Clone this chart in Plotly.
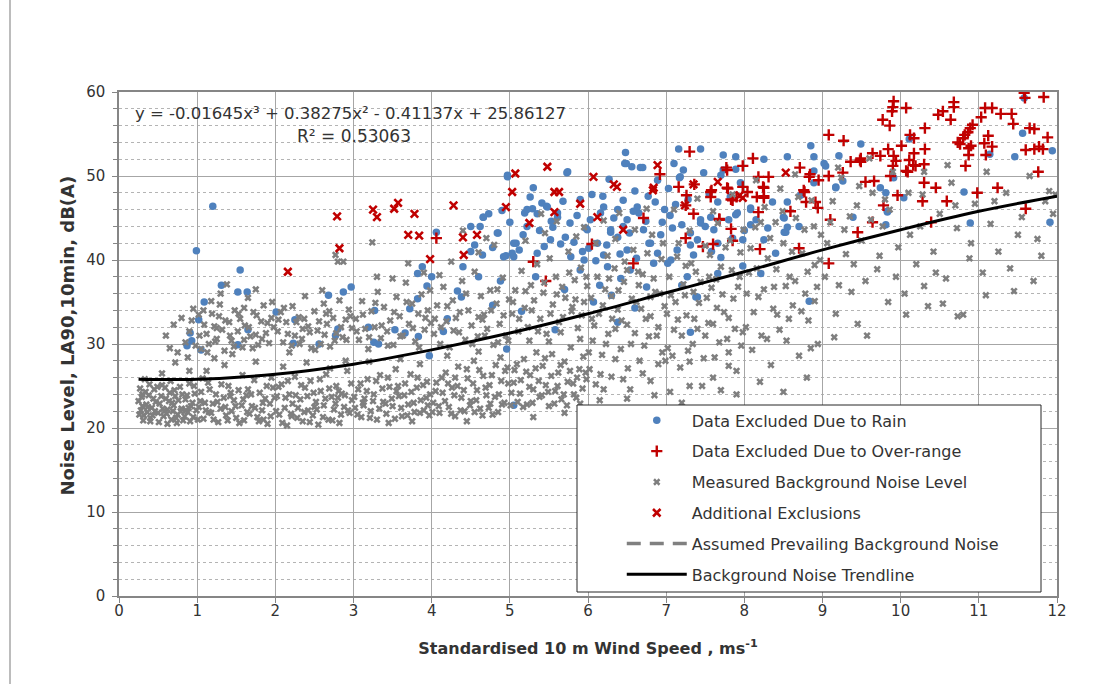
import plotly.graph_objects as go

# ---------------- data ----------------
rain_pts = [
    (1.2, 46.4), (0.99, 41.1), (1.55, 38.8), (1.31, 37.0), (1.52, 36.2), (1.64, 36.2), (1.09, 35.0),
    (1.02, 32.9), (0.91, 31.3), (0.93, 30.4), (0.87, 29.8), (1.05, 29.3), (1.52, 29.9), (1.65, 31.7),
    (2.01, 33.8), (2.25, 32.9), (2.23, 30.1), (2.56, 30.0), (2.68, 35.8), (2.87, 36.2), (2.97, 36.8),
    (2.77, 31.0), (2.8, 31.8), (3.19, 32.0), (3.27, 34.0), (3.26, 30.2), (3.32, 30.0), (3.53, 31.7),
    (3.66, 31.3), (3.72, 34.2), (3.83, 30.9), (3.97, 28.6), (3.82, 35.4), (3.82, 38.4), (3.88, 39.2),
    (3.94, 36.9), (4.0, 38.0), (4.06, 43.3), (4.15, 31.5), (4.33, 36.3), (4.38, 35.6), (4.5, 44.0),
    (4.5, 41.0), (4.65, 40.6), (4.66, 45.1), (4.73, 45.5), (4.85, 43.2), (4.88, 37.5), (4.95, 40.5),
    (4.97, 50.1), (5.05, 22.7), (4.96, 29.4), (5.03, 40.8), (5.08, 42.0), (5.19, 45.6), (5.22, 44.0),
    (5.3, 48.6), (5.29, 46.1), (5.35, 45.5), (5.33, 38.0), (5.41, 46.8), (5.47, 46.4), (5.61, 45.1),
    (5.73, 50.4), (5.71, 42.7), (5.58, 31.7), (5.82, 42.1), (5.97, 43.8), (6.01, 41.4), (6.07, 35.0),
    (6.16, 45.6), (6.2, 40.6), (6.27, 49.6), (6.29, 43.3), (6.38, 32.6), (6.42, 37.8), (6.47, 51.5),
    (6.56, 51.1), (6.65, 45.6), (6.67, 51.0), (6.78, 42.0), (7.02, 39.6), (7.1, 51.5), (7.17, 49.8),
    (7.31, 31.4), (7.4, 35.6), (7.27, 38.0), (4.97, 49.9), (5.74, 50.5), (6.48, 52.8), (6.49, 51.5),
    (6.7, 51.0), (7.16, 53.2), (7.44, 53.2), (7.73, 52.5), (7.89, 52.3), (7.22, 50.7), (7.18, 49.9),
    (7.48, 50.4), (7.7, 50.1), (8.25, 52.0), (6.86, 46.9), (6.89, 49.5), (7.66, 46.9), (7.44, 44.8),
    (7.31, 43.2), (7.82, 47.5), (8.08, 46.0), (6.2, 46.3), (6.38, 46.0), (6.29, 43.6), (6.5, 44.8),
    (6.63, 46.3), (6.38, 42.7), (6.12, 42.0), (5.99, 43.6), (6.71, 43.6), (6.8, 42.0), (6.89, 40.8),
    (7.06, 40.0), (7.14, 41.2), (7.4, 42.4), (7.61, 43.6), (6.5, 41.2), (6.54, 38.8), (6.84, 39.6),
    (5.78, 40.4), (5.9, 38.8), (6.25, 39.2), (5.52, 42.4), (5.35, 40.8), (5.22, 46.0), (5.48, 46.3),
    (5.61, 45.6), (5.05, 40.4), (4.66, 45.1), (4.84, 43.2), (5.05, 42.0), (4.92, 40.4), (8.85, 53.6),
    (8.55, 52.3), (9.49, 53.8), (9.21, 52.4), (9.04, 51.2), (8.89, 50.6), (8.89, 49.2), (9.17, 48.7),
    (9.26, 49.4), (8.72, 47.7), (9.74, 48.6), (9.81, 48.0), (10.04, 47.4), (9.83, 45.8), (9.81, 44.2),
    (9.39, 45.1), (10.81, 48.1), (10.89, 44.4), (11.14, 52.6), (11.46, 52.3), (11.56, 55.1), (11.94, 53.0),
    (11.91, 44.5), (10.11, 54.4), (9.91, 49.8), (11.58, 59.3), (8.51, 45.0), (8.51, 43.3), (8.55, 46.9),
    (8.83, 35.1), (7.38, 35.6), (7.66, 38.4), (8.21, 38.4), (7.98, 39.3), (7.44, 44.4), (7.57, 45.1),
    (7.89, 45.4), (8.08, 44.2), (8.5, 45.1), (8.7, 44.0), (7.85, 42.6), (7.98, 42.4), (7.31, 41.8),
    (7.66, 42.0), (8.25, 42.4), (8.36, 46.9), (8.08, 46.2), (7.91, 45.6), (8.55, 43.9), (8.53, 43.3),
    (9.17, 48.6), (9.83, 45.7), (8.89, 52.3), (9.02, 51.5), (7.73, 50.7), (7.89, 50.8),
    (5.9, 47.2), (6.05, 47.8), (6.6, 48.2), (5.55, 43.9), (4.4, 39.2), (4.6, 38.0), (6.95, 44.5),
    (7.05, 45.3), (6.15, 37.0), (5.7, 36.5), (6.3, 35.8), (6.75, 36.8), (4.78, 34.6), (5.15, 33.9),
    (4.2, 33.0), (6.6, 34.3), (7.2, 37.0), (5.95, 40.0), (6.45, 44.0), (7.55, 47.9), (7.95, 49.2),
    (4.55, 41.8), (4.62, 44.0), (4.78, 41.5), (4.9, 45.9), (5.0, 44.5), (5.12, 41.2), (5.17, 43.0),
    (5.26, 47.5), (5.38, 43.5), (5.44, 41.6), (5.53, 44.6), (5.65, 41.9), (5.68, 47.0), (5.77, 44.4),
    (5.86, 45.3), (5.93, 41.0), (6.03, 44.8), (6.1, 39.9), (6.19, 47.6), (6.24, 41.8), (6.33, 45.0),
    (6.41, 40.7), (6.45, 47.1), (6.53, 43.2), (6.58, 45.8), (6.62, 40.2), (6.74, 44.6), (6.77, 47.6),
    (6.93, 43.0), (6.98, 46.0), (7.03, 48.5), (7.08, 43.8), (7.12, 46.6), (7.2, 44.2), (7.28, 47.2),
    (7.35, 40.6), (7.5, 44.0), (7.58, 41.0), (7.7, 40.3), (7.8, 44.8), (8.0, 43.5), (8.15, 44.8),
    (8.3, 43.8), (8.4, 40.8),
]

overrange_pts = [
    (9.91, 58.9), (9.9, 58.2), (9.89, 57.7), (10.07, 58.1), (9.77, 56.7), (9.86, 56.0), (10.31, 55.7),
    (10.48, 57.3), (10.54, 57.7), (10.64, 56.7), (10.68, 58.8), (10.68, 58.2), (11.03, 57.0), (11.08, 58.1),
    (11.17, 58.1), (11.28, 57.4), (11.42, 57.4), (11.44, 56.2), (11.58, 59.9), (11.59, 59.3), (11.83, 59.4),
    (11.65, 55.7), (11.71, 55.6), (11.88, 54.6), (9.08, 54.9), (9.27, 54.2), (9.49, 52.1), (9.49, 51.7),
    (9.36, 51.7), (9.64, 52.7), (9.74, 52.4), (9.84, 53.2), (9.91, 52.4), (10.01, 53.6), (9.9, 51.2),
    (9.94, 51.8), (9.87, 50.0), (10.11, 51.9), (10.17, 52.7), (10.16, 51.3), (10.19, 51.2), (10.3, 51.4),
    (10.07, 50.6), (10.09, 50.5), (10.31, 53.2), (10.12, 54.9), (10.17, 54.5), (10.3, 49.2), (10.45, 48.6),
    (10.59, 47.0), (10.28, 47.0), (9.96, 47.7), (9.78, 46.5), (9.64, 44.5), (9.45, 43.3), (9.08, 39.6),
    (8.7, 41.4), (8.59, 45.8), (8.91, 46.9), (8.94, 46.2), (8.79, 46.9), (8.77, 48.1), (8.84, 50.2),
    (8.83, 49.9), (8.95, 49.5), (9.08, 50.0), (9.26, 50.4), (9.55, 49.3), (9.66, 49.4), (9.48, 51.9),
    (8.71, 51.0), (9.1, 44.8), (10.73, 54.0), (10.76, 53.8), (10.8, 54.5), (10.82, 54.9), (10.86, 55.2),
    (10.89, 55.7), (10.92, 56.1), (10.87, 53.3), (10.87, 52.5), (10.9, 53.6), (10.83, 51.2), (11.12, 54.8),
    (11.07, 53.9), (11.17, 53.5), (11.09, 52.5), (11.6, 53.1), (11.71, 53.2), (11.77, 53.5), (11.82, 53.2),
    (11.76, 50.5), (11.6, 46.1), (11.24, 48.6), (10.98, 48.0), (7.3, 52.9), (6.92, 50.2), (7.16, 48.7),
    (7.26, 47.7), (7.25, 46.5), (7.35, 45.5), (6.71, 45.0), (6.05, 41.9), (6.58, 39.6), (5.3, 39.8),
    (5.46, 37.5), (7.77, 51.0), (7.98, 51.2), (8.11, 52.1), (7.57, 48.1), (7.57, 47.5), (7.79, 48.5),
    (7.83, 47.2), (7.9, 47.5), (7.98, 48.7), (8.04, 48.1), (8.16, 47.5), (8.25, 47.4), (8.18, 49.9),
    (8.25, 48.6), (8.31, 49.9), (8.18, 45.7), (7.68, 44.8), (7.83, 43.7), (7.85, 42.3), (7.47, 41.6),
    (7.6, 41.9), (8.2, 41.3), (7.25, 42.6), (7.68, 44.9), (7.58, 48.3), (7.78, 48.6), (7.85, 47.1),
    (7.78, 50.7), (8.24, 48.7), (8.25, 47.6), (8.76, 48.3), (7.36, 49.0), (10.39, 44.5), (4.06, 42.6),
]

background_pts = [
    # 0 - 1 m/s
    (0.25, 23.2), (0.28, 22.1), (0.3, 24.0), (0.32, 21.5), (0.35, 22.8), (0.38, 23.9), (0.4, 21.2),
    (0.42, 22.4), (0.45, 24.6), (0.47, 23.1), (0.5, 21.8), (0.52, 22.9), (0.55, 25.1), (0.57, 21.4),
    (0.6, 23.5), (0.62, 22.2), (0.65, 24.2), (0.67, 21.0), (0.7, 22.7), (0.72, 23.8), (0.75, 21.6),
    (0.78, 24.9), (0.8, 22.3), (0.82, 20.9), (0.85, 23.4), (0.88, 21.9), (0.9, 25.3), (0.92, 22.6),
    (0.95, 21.3), (0.97, 24.1), (0.3, 22.6), (0.36, 21.9), (0.44, 23.5), (0.58, 22.0), (0.68, 23.0),
    (0.74, 20.6), (0.86, 22.1), (0.33, 25.8), (0.55, 26.5), (0.9, 26.8), (0.6, 31.0), (0.65, 29.5),
    (0.7, 32.3), (0.75, 29.0), (0.8, 33.1), (0.85, 30.2), (0.9, 31.5), (0.95, 34.2), (0.98, 29.8),
    (0.88, 28.4), (0.72, 27.8), (0.93, 32.8), (0.4, 20.8), (0.62, 20.5), (0.27, 24.7),
    (0.26, 21.6), (0.29, 23.7), (0.31, 20.9), (0.34, 24.3), (0.37, 22.5), (0.39, 25.2), (0.43, 21.5),
    (0.46, 22.0), (0.49, 24.9), (0.51, 20.7), (0.54, 23.8), (0.56, 22.3), (0.59, 24.8), (0.61, 21.7),
    (0.64, 23.2), (0.66, 25.6), (0.69, 22.0), (0.71, 24.5), (0.73, 21.2), (0.76, 23.3), (0.79, 22.0),
    (0.81, 24.0), (0.84, 21.4), (0.87, 23.9), (0.89, 22.4), (0.91, 20.8), (0.94, 23.0), (0.96, 25.0),
    (0.99, 22.1),
    # 1 - 2 m/s
    (1.02, 22.5), (1.05, 24.3), (1.08, 21.1), (1.1, 23.0), (1.14, 25.4), (1.18, 21.8), (1.2, 22.9),
    (1.24, 24.0), (1.27, 20.7), (1.3, 22.3), (1.34, 23.6), (1.37, 21.5), (1.4, 25.0), (1.44, 22.0),
    (1.47, 23.3), (1.5, 21.2), (1.53, 24.5), (1.57, 22.7), (1.6, 20.9), (1.63, 23.9), (1.67, 21.7),
    (1.7, 22.6), (1.73, 25.7), (1.77, 21.3), (1.8, 24.2), (1.83, 22.1), (1.87, 23.5), (1.9, 20.5),
    (1.93, 22.9), (1.97, 24.8), (1.12, 26.8), (1.35, 27.5), (1.58, 26.3), (1.75, 27.9), (1.95, 26.0),
    (1.22, 28.3), (1.45, 28.8), (1.02, 33.5), (1.05, 29.4), (1.08, 34.0), (1.12, 31.2), (1.15, 30.0),
    (1.18, 35.1), (1.22, 32.1), (1.25, 30.6), (1.28, 33.3), (1.32, 31.7), (1.35, 29.2), (1.38, 37.1),
    (1.41, 32.6), (1.44, 30.4), (1.48, 34.0), (1.52, 31.5), (1.55, 33.0), (1.58, 29.6), (1.61, 32.2),
    (1.65, 35.5), (1.68, 30.9), (1.72, 33.8), (1.75, 31.1), (1.78, 29.9), (1.82, 32.7), (1.85, 34.6),
    (1.88, 31.3), (1.92, 30.1), (1.95, 33.1), (1.98, 32.0), (1.3, 36.0), (1.75, 36.5), (1.15, 21.9),
    (1.42, 23.8), (1.65, 24.6), (1.85, 21.0), (1.25, 31.9), (1.6, 30.5),
    (1.01, 21.0), (1.04, 23.2), (1.07, 25.9), (1.11, 22.1), (1.16, 24.6), (1.21, 21.0), (1.26, 23.1),
    (1.31, 25.2), (1.36, 22.5), (1.39, 20.9), (1.43, 24.2), (1.49, 22.6), (1.54, 20.6), (1.59, 23.4),
    (1.64, 21.9), (1.69, 24.0), (1.74, 22.4), (1.79, 20.8), (1.84, 23.0), (1.89, 25.0), (1.94, 21.4),
    (1.99, 23.6), (1.03, 31.0), (1.09, 32.3), (1.13, 29.0), (1.19, 33.6), (1.23, 30.3), (1.29, 34.7),
    (1.36, 32.8), (1.42, 31.0), (1.47, 29.7), (1.53, 33.6), (1.6, 34.3), (1.66, 32.0), (1.71, 29.5),
    (1.76, 33.4), (1.83, 30.6), (1.9, 32.5), (1.96, 35.0),
    # 2 - 3 m/s
    (2.02, 23.8), (2.05, 21.6), (2.08, 25.2), (2.12, 22.4), (2.15, 20.3), (2.18, 24.0), (2.22, 22.9),
    (2.25, 26.1), (2.28, 21.2), (2.32, 23.4), (2.35, 20.8), (2.38, 24.8), (2.42, 22.1), (2.45, 25.6),
    (2.48, 21.5), (2.52, 23.1), (2.55, 20.4), (2.58, 24.4), (2.62, 22.7), (2.65, 26.4), (2.68, 21.0),
    (2.72, 23.7), (2.75, 22.2), (2.78, 25.0), (2.82, 20.6), (2.85, 24.1), (2.88, 22.5), (2.92, 26.8),
    (2.95, 21.8), (2.98, 23.3), (2.1, 27.3), (2.4, 27.8), (2.7, 27.1), (2.9, 28.0), (2.03, 31.5),
    (2.07, 33.8), (2.1, 30.2), (2.14, 32.6), (2.18, 29.0), (2.22, 34.5), (2.25, 31.0), (2.3, 33.2),
    (2.34, 30.6), (2.38, 35.7), (2.42, 32.1), (2.46, 29.5), (2.5, 33.9), (2.54, 31.6), (2.58, 30.0),
    (2.62, 34.8), (2.66, 32.4), (2.7, 29.7), (2.74, 33.1), (2.78, 31.3), (2.82, 35.2), (2.86, 30.8),
    (2.9, 32.9), (2.94, 34.1), (2.98, 31.9), (2.6, 36.4), (2.77, 40.6), (2.8, 39.8), (2.87, 39.8),
    (2.2, 21.7), (2.5, 22.5), (2.8, 23.6), (2.35, 31.8), (2.65, 33.6),
    (2.01, 22.0), (2.04, 24.9), (2.09, 20.6), (2.13, 23.6), (2.16, 25.6), (2.21, 21.4), (2.26, 23.9),
    (2.29, 22.4), (2.33, 25.1), (2.37, 21.9), (2.41, 23.8), (2.44, 20.7), (2.49, 24.2), (2.53, 22.2),
    (2.57, 25.8), (2.61, 21.3), (2.64, 23.5), (2.69, 24.7), (2.73, 20.9), (2.77, 22.9), (2.81, 24.4),
    (2.84, 21.6), (2.89, 23.9), (2.93, 22.1), (2.97, 25.3), (2.04, 32.9), (2.11, 34.3), (2.16, 31.2),
    (2.21, 29.8), (2.27, 32.6), (2.31, 30.0), (2.37, 33.0), (2.44, 31.4), (2.51, 29.3), (2.56, 32.7),
    (2.63, 31.1), (2.69, 33.9), (2.76, 30.4), (2.84, 32.0), (2.91, 30.5), (2.96, 33.3),
    # 3 - 4 m/s
    (3.02, 22.4), (3.06, 24.6), (3.1, 21.3), (3.14, 23.5), (3.18, 25.8), (3.22, 22.0), (3.26, 24.0),
    (3.3, 21.0), (3.34, 26.3), (3.38, 23.1), (3.42, 21.7), (3.46, 24.9), (3.5, 22.6), (3.54, 27.0),
    (3.58, 23.8), (3.62, 21.4), (3.66, 25.3), (3.7, 22.8), (3.74, 24.3), (3.78, 21.9), (3.82, 26.0),
    (3.86, 23.3), (3.9, 22.1), (3.94, 25.5), (3.98, 24.0), (3.2, 27.9), (3.6, 28.2), (3.85, 27.6),
    (3.45, 20.6), (3.75, 20.8), (3.03, 33.0), (3.07, 30.5), (3.11, 35.1), (3.15, 31.8), (3.19, 29.4),
    (3.23, 33.9), (3.27, 32.0), (3.31, 36.2), (3.35, 30.7), (3.39, 34.4), (3.43, 31.5), (3.47, 32.8),
    (3.51, 29.9), (3.55, 35.6), (3.59, 33.3), (3.63, 31.0), (3.67, 37.3), (3.71, 32.4), (3.75, 34.8),
    (3.79, 30.3), (3.83, 33.6), (3.87, 35.9), (3.91, 31.7), (3.95, 34.0), (3.99, 32.5), (3.3, 38.0),
    (3.5, 37.8), (3.9, 38.5), (3.24, 42.1), (3.7, 39.6), (3.12, 23.0), (3.55, 24.4), (3.95, 22.7),
    (3.01, 23.7), (3.05, 21.6), (3.09, 25.3), (3.13, 22.7), (3.17, 24.4), (3.21, 21.2), (3.25, 23.2),
    (3.29, 25.6), (3.33, 22.3), (3.37, 24.7), (3.41, 22.9), (3.44, 26.0), (3.49, 23.5), (3.53, 21.1),
    (3.57, 25.0), (3.61, 22.4), (3.65, 23.9), (3.69, 21.5), (3.73, 26.4), (3.77, 23.0), (3.81, 24.8),
    (3.85, 21.8), (3.89, 25.1), (3.93, 23.6), (3.97, 21.5), (3.04, 31.5), (3.12, 33.5), (3.2, 30.8),
    (3.28, 34.9), (3.36, 32.2), (3.44, 29.8), (3.52, 33.8), (3.6, 30.9), (3.68, 35.0), (3.76, 31.9),
    (3.84, 29.6), (3.92, 33.1), (3.98, 36.4),
    # 4 - 5 m/s
    (4.02, 23.0), (4.06, 25.4), (4.1, 21.8), (4.14, 24.2), (4.18, 26.6), (4.22, 22.5), (4.26, 24.8),
    (4.3, 21.4), (4.34, 27.3), (4.38, 23.6), (4.42, 22.0), (4.46, 25.9), (4.5, 23.2), (4.54, 28.0),
    (4.58, 24.5), (4.62, 22.3), (4.66, 26.2), (4.7, 23.9), (4.74, 25.1), (4.78, 21.6), (4.82, 27.5),
    (4.86, 24.0), (4.9, 22.8), (4.94, 26.8), (4.98, 25.3), (4.2, 28.6), (4.6, 29.1), (4.88, 28.4),
    (4.45, 20.8), (4.75, 22.9), (4.03, 31.2), (4.07, 34.6), (4.11, 30.0), (4.15, 36.8), (4.19, 32.7),
    (4.23, 29.6), (4.27, 35.2), (4.31, 33.1), (4.35, 31.4), (4.39, 37.5), (4.43, 30.5), (4.47, 34.0),
    (4.51, 32.2), (4.55, 38.6), (4.59, 30.9), (4.63, 35.7), (4.67, 33.5), (4.71, 31.8), (4.75, 36.4),
    (4.79, 29.9), (4.83, 34.8), (4.87, 32.4), (4.91, 37.9), (4.95, 31.0), (4.99, 35.3), (4.25, 39.8),
    (4.6, 40.9), (4.8, 41.8), (4.4, 43.5), (4.7, 42.6), (4.1, 38.2), (4.3, 26.0), (4.55, 21.9),
    (4.85, 30.2), (4.65, 32.9),
    (4.01, 21.9), (4.05, 24.4), (4.09, 22.6), (4.13, 26.0), (4.17, 23.2), (4.21, 25.3), (4.25, 21.7),
    (4.29, 23.9), (4.33, 25.0), (4.37, 22.1), (4.41, 24.5), (4.45, 27.0), (4.49, 22.7), (4.53, 25.3),
    (4.57, 23.3), (4.61, 26.9), (4.65, 21.5), (4.69, 24.8), (4.73, 22.4), (4.77, 26.3), (4.81, 23.7),
    (4.85, 21.9), (4.89, 25.6), (4.93, 23.0), (4.97, 27.2), (4.04, 33.0), (4.12, 32.0), (4.2, 34.5),
    (4.28, 31.6), (4.36, 33.8), (4.44, 36.0), (4.52, 30.0), (4.6, 33.2), (4.68, 31.0), (4.76, 34.0),
    (4.84, 36.5), (4.92, 33.4), (4.98, 30.4),
    # 5 - 6 m/s
    (5.02, 24.2), (5.06, 26.9), (5.1, 23.1), (5.14, 25.7), (5.18, 28.2), (5.22, 22.8), (5.26, 26.3),
    (5.3, 24.6), (5.34, 29.0), (5.38, 23.7), (5.42, 27.4), (5.46, 25.1), (5.5, 22.6), (5.54, 28.8),
    (5.58, 24.4), (5.62, 26.6), (5.66, 23.4), (5.7, 27.9), (5.74, 25.5), (5.78, 29.6), (5.82, 24.0),
    (5.86, 26.0), (5.9, 22.9), (5.94, 28.5), (5.98, 25.8), (5.3, 21.3), (5.7, 21.8), (5.5, 30.3),
    (5.9, 30.6), (5.03, 33.6), (5.07, 36.4), (5.11, 31.5), (5.15, 38.7), (5.19, 34.3), (5.23, 32.0),
    (5.27, 37.0), (5.31, 35.2), (5.35, 39.5), (5.39, 33.0), (5.43, 36.1), (5.47, 31.2), (5.51, 40.2),
    (5.55, 34.7), (5.59, 38.0), (5.63, 32.6), (5.67, 36.8), (5.71, 35.5), (5.75, 41.0), (5.79, 33.9),
    (5.83, 37.6), (5.87, 31.9), (5.91, 39.1), (5.95, 35.0), (5.99, 36.9), (5.2, 42.3), (5.45, 43.2),
    (5.6, 44.6), (5.85, 42.8), (5.4, 45.5), (5.95, 43.9), (5.25, 30.4), (5.65, 31.4), (5.8, 34.4),
    (5.01, 22.7), (5.05, 25.4), (5.09, 27.6), (5.13, 24.1), (5.17, 22.5), (5.21, 26.7), (5.25, 24.9),
    (5.29, 23.0), (5.33, 27.1), (5.37, 25.6), (5.41, 23.9), (5.45, 28.3), (5.49, 24.3), (5.53, 26.2),
    (5.57, 22.9), (5.61, 25.0), (5.65, 27.5), (5.69, 24.0), (5.73, 22.7), (5.77, 26.8), (5.81, 25.3),
    (5.85, 23.6), (5.89, 27.0), (5.93, 24.7), (5.97, 26.6), (5.04, 35.0), (5.12, 33.0), (5.2, 36.3),
    (5.28, 34.0), (5.36, 31.5), (5.44, 37.3), (5.52, 33.6), (5.6, 35.9), (5.68, 33.2), (5.76, 38.5),
    (5.84, 35.3), (5.92, 33.4), (5.98, 38.0),
    # 6 - 7 m/s
    (6.02, 27.0), (6.06, 30.4), (6.1, 25.2), (6.14, 33.6), (6.18, 28.7), (6.22, 36.5), (6.26, 31.2),
    (6.3, 26.1), (6.34, 39.0), (6.38, 34.1), (6.42, 29.4), (6.46, 37.4), (6.5, 32.3), (6.54, 24.6),
    (6.58, 41.2), (6.62, 35.0), (6.66, 28.0), (6.7, 38.3), (6.74, 33.0), (6.78, 30.9), (6.82, 43.0),
    (6.86, 36.2), (6.9, 27.6), (6.94, 40.1), (6.98, 34.5), (6.1, 42.0), (6.2, 44.7), (6.4, 45.6),
    (6.6, 43.6), (6.75, 46.1), (6.3, 35.7), (6.5, 38.8), (6.15, 23.3), (6.45, 25.8), (6.7, 26.5),
    (6.85, 23.9), (6.55, 30.0), (6.9, 32.0), (6.25, 40.5), (6.65, 37.0), (6.05, 33.0), (6.35, 31.8),
    (6.8, 35.6), (6.95, 29.0),
    (6.01, 29.0), (6.04, 35.5), (6.08, 32.2), (6.12, 38.0), (6.16, 26.4), (6.19, 34.6), (6.23, 30.0),
    (6.27, 37.8), (6.31, 33.0), (6.35, 28.2), (6.39, 36.4), (6.43, 32.8), (6.47, 39.8), (6.51, 27.1),
    (6.56, 35.4), (6.6, 31.3), (6.64, 38.6), (6.68, 34.2), (6.72, 29.8), (6.76, 40.8), (6.8, 33.3),
    (6.84, 37.8), (6.88, 31.0), (6.92, 36.0), (6.96, 42.0), (6.99, 28.0), (6.2, 24.6), (6.5, 23.5),
    (6.8, 25.6), (6.35, 42.5),
    # 7 - 8 m/s
    (7.02, 29.5), (7.06, 35.8), (7.1, 31.7), (7.14, 40.4), (7.18, 27.2), (7.22, 37.1), (7.26, 33.4),
    (7.3, 43.5), (7.34, 30.0), (7.38, 38.6), (7.42, 34.9), (7.46, 25.0), (7.5, 41.7), (7.54, 32.5),
    (7.58, 36.7), (7.62, 28.4), (7.66, 44.4), (7.7, 39.2), (7.74, 33.8), (7.78, 30.6), (7.82, 42.3),
    (7.86, 35.4), (7.9, 26.8), (7.94, 38.0), (7.98, 31.4), (7.1, 46.0), (7.4, 47.3), (7.6, 45.8),
    (7.85, 47.8), (7.2, 23.0), (7.45, 22.1), (7.7, 24.5), (7.3, 27.9), (7.8, 29.0), (7.65, 34.3),
    (7.95, 40.9), (7.35, 36.2), (7.15, 32.9), (7.5, 31.0), (7.8, 27.4), (7.25, 39.3), (7.55, 38.0),
    (7.01, 33.6), (7.04, 38.0), (7.08, 28.6), (7.12, 35.0), (7.16, 42.0), (7.2, 31.0), (7.24, 35.8),
    (7.28, 29.2), (7.32, 39.6), (7.36, 33.0), (7.4, 31.8), (7.44, 37.4), (7.48, 28.3), (7.52, 35.5),
    (7.56, 40.6), (7.6, 32.4), (7.64, 37.7), (7.68, 30.2), (7.72, 35.9), (7.76, 41.5), (7.8, 33.1),
    (7.84, 38.8), (7.88, 31.8), (7.92, 36.8), (7.96, 29.8), (7.99, 43.6), (7.3, 25.0), (7.6, 26.0),
    (7.9, 24.0), (7.05, 24.3),
    # 8 - 9 m/s
    (8.02, 32.0), (8.06, 38.5), (8.1, 29.3), (8.14, 43.9), (8.18, 35.6), (8.22, 31.0), (8.26, 46.3),
    (8.3, 40.2), (8.34, 27.5), (8.38, 36.8), (8.42, 33.5), (8.46, 48.5), (8.5, 42.0), (8.54, 30.4),
    (8.58, 38.0), (8.62, 34.6), (8.66, 45.0), (8.7, 28.6), (8.74, 40.8), (8.78, 36.0), (8.82, 32.8),
    (8.86, 47.1), (8.9, 39.4), (8.94, 30.0), (8.98, 43.0), (8.2, 25.5), (8.5, 24.3), (8.8, 26.0),
    (8.15, 49.5), (8.65, 50.2), (8.4, 44.5), (8.9, 35.1),
    (8.03, 36.0), (8.08, 41.4), (8.12, 33.8), (8.16, 39.0), (8.21, 44.5), (8.25, 36.5), (8.29, 30.6),
    (8.33, 42.6), (8.37, 34.2), (8.41, 38.9), (8.45, 31.7), (8.49, 45.8), (8.53, 36.9), (8.57, 33.0),
    (8.61, 41.0), (8.65, 37.5), (8.69, 47.5), (8.73, 33.9), (8.77, 43.6), (8.81, 38.6), (8.85, 29.5),
    (8.89, 44.0), (8.93, 36.8), (8.97, 40.0),
    # 9 - 10 m/s
    (9.03, 38.0), (9.1, 44.5), (9.17, 33.6), (9.24, 49.8), (9.3, 40.7), (9.37, 36.2), (9.44, 46.5),
    (9.5, 42.3), (9.57, 31.0), (9.64, 48.0), (9.7, 38.9), (9.77, 44.0), (9.84, 35.0), (9.9, 50.5),
    (9.97, 41.5), (9.2, 51.0), (9.6, 52.1), (9.35, 45.2), (9.8, 47.2), (9.55, 37.5),
    (9.06, 42.0), (9.13, 47.0), (9.21, 37.0), (9.28, 43.6), (9.4, 39.5), (9.47, 48.8), (9.62, 44.8),
    (9.73, 40.5), (9.86, 46.0), (9.94, 38.0), (9.15, 30.8), (9.45, 32.4),
    # 10 - 11 m/s
    (10.05, 36.0), (10.12, 43.0), (10.2, 39.5), (10.28, 47.8), (10.35, 34.5), (10.42, 41.0), (10.5, 45.5),
    (10.58, 37.8), (10.65, 49.2), (10.72, 43.8), (10.8, 33.5), (10.88, 40.2), (10.95, 46.7), (10.3, 50.5),
    (10.6, 51.3), (10.07, 33.5), (10.54, 34.8), (10.73, 33.3), (10.3, 36.9),
    (10.1, 48.0), (10.25, 44.0), (10.45, 38.5), (10.7, 46.5), (10.9, 42.0),
    # 11 - 12 m/s
    (11.05, 38.5), (11.15, 44.3), (11.25, 41.0), (11.35, 48.0), (11.45, 36.3), (11.55, 45.1), (11.65, 50.0),
    (11.75, 42.5), (11.85, 47.0), (11.95, 45.5), (11.4, 39.0), (11.1, 50.5), (11.7, 37.5), (11.9, 48.2),
    (11.09, 35.8), (11.2, 47.0), (11.5, 43.0), (11.8, 40.5), (11.98, 47.8),
]

additional_pts = [
    (2.16, 38.6), (2.79, 45.2), (2.82, 41.4), (3.25, 46.0), (3.3, 45.1), (3.52, 46.1), (3.57, 46.8),
    (3.7, 43.0), (3.78, 45.5), (3.84, 42.9), (3.98, 40.1), (4.28, 46.5), (4.4, 42.7), (4.41, 40.6),
    (4.58, 43.0), (4.95, 46.3), (5.03, 48.1), (5.07, 50.3), (5.48, 51.1), (5.57, 48.1), (5.63, 48.1),
    (5.57, 45.7), (5.9, 46.7), (6.07, 49.9), (5.25, 44.4), (6.12, 45.1), (6.33, 49.0), (6.37, 48.7),
    (6.89, 51.3), (6.45, 43.6), (7.35, 49.0), (6.83, 48.3), (7.66, 49.3), (7.98, 47.4), (8.53, 50.4),
    (6.84, 48.6), (7.94, 47.7), (7.24, 46.5),
]

speed_trend = [0.25, 1, 2, 3, 4, 5, 6, 7, 8, 9, 10, 11, 12]
level_trend = [25.8, 25.8, 26.4, 27.6, 29.3, 31.3, 33.6, 36.1, 38.6, 41.2, 43.6, 45.8, 47.6]

x_ticks = list(range(0, 13))
y_ticks = [0, 10, 20, 30, 40, 50, 60]

equation_text = "y = -0.01645x³ + 0.38275x² - 0.41137x + 25.86127"
r2_text = "R² = 0.53063"
x_title = "<b>Standardised 10 m Wind Speed , ms<sup>-1</sup></b>"
y_title = "<b>Noise Level, LA90,10min, dB(A)</b>"

# ---------------- figure ----------------
FONT = "DejaVu Sans"
TXT = "#333333"


def xs(pts):
    return [p[0] for p in pts]


def ys(pts):
    return [p[1] for p in pts]


fig = go.Figure()

fig.add_trace(go.Scatter(
    x=xs(rain_pts), y=ys(rain_pts), mode="markers", name="Data Excluded Due to Rain",
    marker=dict(symbol="circle", size=7.5, color="#4f81bd"), legendgroup="a"))
fig.add_trace(go.Scatter(
    x=xs(overrange_pts), y=ys(overrange_pts), mode="markers", name="Data Excluded Due to Over-range",
    marker=dict(symbol="cross-thin", size=8, line=dict(color="#c00000", width=2.4), color="#c00000"),
    legendgroup="b"))
fig.add_trace(go.Scatter(
    x=xs(background_pts), y=ys(background_pts), mode="markers", name="Measured Background Noise Level",
    marker=dict(symbol="x", size=6.5, color="#7f7f7f", line=dict(width=0)),
    legendgroup="c"))
fig.add_trace(go.Scatter(
    x=xs(additional_pts), y=ys(additional_pts), mode="markers", name="Additional Exclusions",
    marker=dict(symbol="x-thin", size=7.5, line=dict(color="#c00000", width=2.6), color="#c00000"),
    legendgroup="d"))
fig.add_trace(go.Scatter(
    x=[None], y=[None], mode="lines", name="Assumed Prevailing Background Noise",
    line=dict(color="#808080", width=3.5, dash="14px,9px"), legendgroup="e"))
fig.add_trace(go.Scatter(
    x=speed_trend, y=level_trend, mode="lines", name="Background Noise Trendline",
    line=dict(color="#000000", width=3, shape="spline"), legendgroup="f"))

fig.update_layout(
    width=1098, height=684,
    margin=dict(l=119, r=41, t=92, b=88),
    paper_bgcolor="white", plot_bgcolor="white",
    font=dict(family=FONT, size=15, color=TXT),
    legend=dict(x=0.536, y=0.382, xanchor="left", yanchor="top",
                bgcolor="rgba(0,0,0,0)", borderwidth=0,
                font=dict(family=FONT, size=16, color=TXT),
                tracegroupgap=7, itemwidth=60),
    shapes=[
        dict(type="rect", xref="paper", yref="paper",
             x0=(577 - 119) / 938, x1=(1041 - 119) / 938,
             y0=(596 - 592) / 504, y1=(596 - 405) / 504,
             fillcolor="white", line=dict(color="#262626", width=1), layer="above"),
        dict(type="rect", xref="paper", yref="paper",
             x0=(10 - 119) / 938, x1=(1120 - 119) / 938,
             y0=(596 - 720) / 504, y1=(596 + 40) / 504,
             fillcolor="rgba(0,0,0,0)", line=dict(color="#a6a6a6", width=1.5), layer="below"),
    ],
    annotations=[
        dict(x=0.18, y=57.4, xref="x", yref="y", text=equation_text, showarrow=False,
             xanchor="left", yanchor="middle", font=dict(family=FONT, size=16.5, color=TXT)),
        dict(x=3.0, y=54.8, xref="x", yref="y", text=r2_text, showarrow=False,
             xanchor="center", yanchor="middle", font=dict(family=FONT, size=17, color=TXT)),
        dict(x=(68 - 119) / 938, y=31.0, xref="paper", yref="y", text=y_title, showarrow=False,
             textangle=-90, xanchor="center", yanchor="middle",
             font=dict(family=FONT, size=18, color=TXT)),
    ],
)

fig.update_xaxes(
    range=[0, 12], tickvals=x_ticks, ticktext=[str(v) for v in x_ticks],
    showgrid=True, gridcolor="#a6a6a6", gridwidth=1,
    showline=True, linecolor="#868686", linewidth=1.5, mirror=True,
    ticks="outside", ticklen=5, tickcolor="#868686",
    tickfont=dict(family=FONT, size=15, color=TXT), ticklabelstandoff=-5,
    zeroline=False,
    title=dict(text=x_title, font=dict(family=FONT, size=16, color=TXT), standoff=24),
)
fig.update_yaxes(
    range=[0, 60], tickvals=y_ticks, ticktext=[str(v) for v in y_ticks],
    showgrid=True, gridcolor="#a6a6a6", gridwidth=1,
    showline=True, linecolor="#868686", linewidth=1.5, mirror=True,
    ticks="outside", ticklen=5, tickcolor="#868686",
    tickfont=dict(family=FONT, size=15, color=TXT), ticklabelstandoff=4,
    zeroline=False,
    minor=dict(dtick=2, showgrid=True, gridcolor="#b4b4b4", griddash="dot", gridwidth=1,
               ticks="outside", ticklen=4, tickcolor="#868686"),
)

fig.write_html("out.html")
